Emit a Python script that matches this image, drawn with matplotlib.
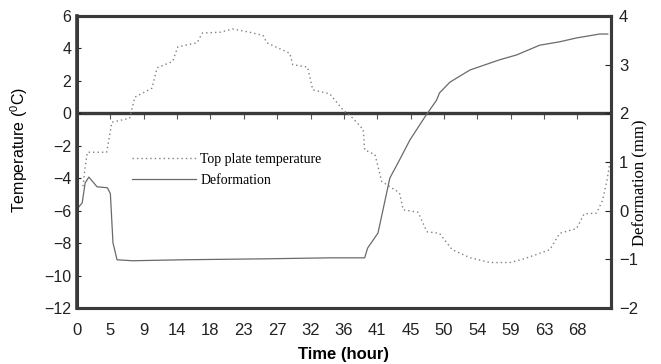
import matplotlib.pyplot as plt

# top plate temperature (deg C) against time (hour)
temp_hours = [0.8, 1.1, 1.4, 4.0, 4.7, 7.1, 7.8, 10.1, 10.8, 12.9, 13.6, 16.2, 16.9,
              19.3, 21.0, 23.3, 25.1, 25.6, 28.7, 29.1, 31.1, 31.8, 34.1, 35.9,
              37.2, 38.6, 38.8, 40.2, 41.1, 43.5, 44.0, 46.0, 47.2, 48.9, 50.6,
              53.0, 55.7, 58.4, 60.1, 62.0, 63.8, 65.1, 67.4, 68.4, 70.1, 70.9,
              71.5, 71.9]
temp_values = [-4.5, -3.3, -2.4, -2.4, -0.55, -0.3, 1.0, 1.55, 2.8, 3.2, 4.1, 4.35, 4.95,
               5.0, 5.2, 5.0, 4.8, 4.35, 3.7, 3.0, 2.85, 1.45, 1.2, 0.2,
               -0.3, -1.0, -2.25, -2.55, -4.2, -4.9, -5.95, -6.1, -7.3, -7.4, -8.4,
               -8.9, -9.2, -9.2, -9.0, -8.7, -8.4, -7.4, -7.1, -6.2, -6.15, -5.35,
               -4.1, -3.0]

# deformation (mm) against time (hour)
def_hours = [0.1, 0.7, 1.1, 1.6, 2.7, 4.1, 4.5, 4.85, 5.4, 7.5, 14.3, 25.6, 34.1,
             38.8, 39.2, 40.6, 42.2, 43.5, 44.9, 46.9, 48.5, 48.9, 50.3, 53.0,
             57.0, 59.3, 62.4, 65.1, 67.4, 70.5, 71.6]
def_values = [0.05, 0.16, 0.57, 0.69, 0.49, 0.47, 0.35, -0.66, -1.01, -1.03, -1.01, -0.99, -0.97,
              -0.97, -0.77, -0.46, 0.67, 1.04, 1.45, 1.92, 2.27, 2.42, 2.64, 2.89,
              3.10, 3.20, 3.40, 3.47, 3.55, 3.63, 3.63]

tick_hours = [0, 4.5, 9, 13.5, 18, 22.5, 27, 31.5, 36, 40.5, 45, 49.5, 54, 58.5, 63, 67.5]
tick_labels = ['0', '5', '9', '14', '18', '23', '27', '32', '36', '41', '45', '50',
               '54', '59', '63', '68']

plt.rcParams['font.family'] = ['Liberation Sans', 'DejaVu Sans']
frame = '#3a3a3a'

fig = plt.figure(figsize=(6.61, 3.64), dpi=100)
ax = fig.add_axes([0.1165, 0.154, 0.8075, 0.802])
ax2 = ax.twinx()

# thick line at zero temperature
ax.axhline(0, color=frame, lw=2.4, zorder=1)

l1, = ax.plot(temp_hours, temp_values, color='#808080', lw=1.0, linestyle=(0, (1, 2.2)))
l2, = ax2.plot(def_hours, def_values, color='#6a6a6a', lw=0.9)

ax.set_xlim(0, 72)
ax.set_ylim(-12, 6)
ax2.set_ylim(-2, 4)
ax.set_yticks(range(-12, 7, 2))
ax2.set_yticks(range(-2, 5))
ax.set_xticks(tick_hours)
ax.set_xticklabels(tick_labels)

for a in (ax, ax2):
    for s in a.spines.values():
        s.set_linewidth(2.2)
        s.set_color(frame)
ax.spines['left'].set_linewidth(2.6)

ax.tick_params(axis='x', length=0, labelsize=12, pad=11, colors='#222222')
ax.tick_params(axis='y', direction='in', length=3, width=0.8, labelsize=11.5,
               colors='#222222', pad=4)
ax2.tick_params(axis='y', direction='in', length=4, width=0.8, labelsize=12,
                colors='#222222', pad=6)

# hour ticks standing on the zero line
zero = ax.secondary_xaxis(12 / 18)
zero.set_xticks(tick_hours)
zero.set_xticklabels([])
zero.tick_params(direction='in', length=4, width=0.8, colors='#555555')
zero.spines['bottom'].set_visible(False)

ax.set_xlabel('Time (hour)', fontsize=12, fontweight='bold', labelpad=6)
ax.set_ylabel('Temperature ($\\mathregular{^{0}}$C)', fontsize=11.5)
ax.yaxis.set_label_coords(-0.088, 0.54)
ax2.set_ylabel('Deformation (mm)', fontsize=12, family='Liberation Serif')
ax2.yaxis.set_label_coords(1.04, 0.43)

ax.legend([l1, l2], ['Top plate temperature', 'Deformation'], loc='upper left',
          bbox_to_anchor=(0.08, 0.575), frameon=False, handlelength=4.6,
          handletextpad=0.3, labelspacing=0.6,
          prop={'family': 'Liberation Serif', 'size': 10})

fig.savefig('out.png', dpi=100)
